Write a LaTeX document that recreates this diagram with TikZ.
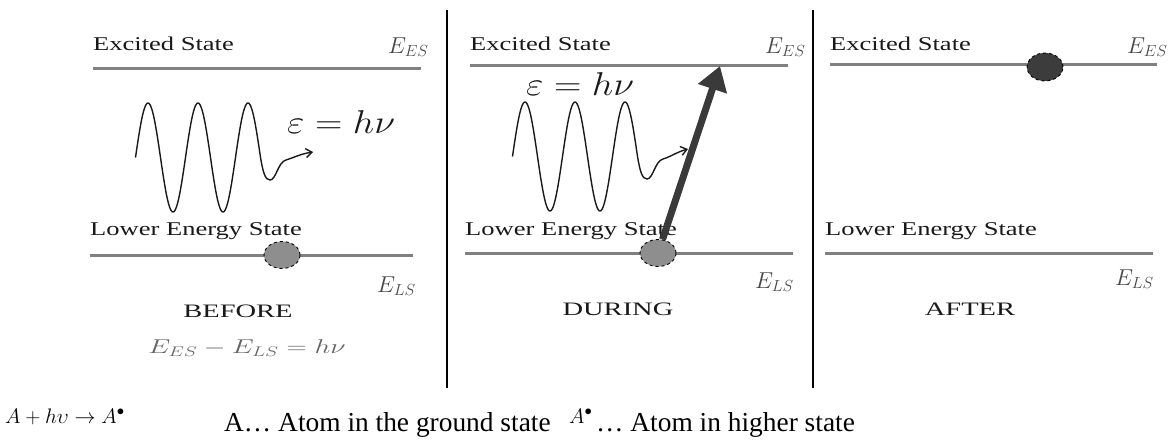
\documentclass[tikz,border=0pt]{standalone}
\usepackage{fix-cm}
\usepackage{fontspec}
\setmainfont{Liberation Serif}
\usetikzlibrary{arrows.meta,shapes.geometric}
\definecolor{levelgray}{RGB}{128,128,128}
\definecolor{txtdark}{RGB}{25,25,25}
\definecolor{elabgray}{RGB}{70,70,70}
\definecolor{eqgray}{RGB}{100,100,100}
\definecolor{atomlight}{RGB}{142,142,142}
\definecolor{atomdark}{RGB}{60,60,60}
\definecolor{arrowdark}{RGB}{58,58,58}
\newcommand\hstretch[2][1.36]{\scalebox{#1}[1]{#2}}
\begin{document}
\begin{tikzpicture}[x=1pt,y=-1pt,
  level/.style={draw=levelgray,line width=3pt},
  divider/.style={draw=black,line width=2pt},
  lbl/.style={inner sep=0pt,anchor=base west,text=txtdark,font=\fontsize{19.5}{22}\selectfont},
  elbl/.style={inner sep=0pt,anchor=base west,text=elabgray,font=\fontsize{23}{26}\selectfont},
  phase/.style={inner sep=0pt,anchor=base,text=txtdark,font=\fontsize{19}{21}\selectfont},
  photon/.style={inner sep=0pt,anchor=base west,text=txtdark,font=\fontsize{33}{36}\selectfont},
  wave/.style={draw=txtdark,line width=1.4pt},
  tail/.style={-{Straight Barb[length=6pt,width=9pt]}},
  atom/.style={ellipse,minimum width=36pt,minimum height=27pt,inner sep=0pt,draw=black,dashed,line width=0.9pt},
  bigarrow/.style={draw=arrowdark,line width=7pt,-{Triangle[length=24pt,width=29pt]}},
  bottomtxt/.style={inner sep=0pt,anchor=base west,text=black,font=\fontsize{27.4}{31}\selectfont},
  bottommath/.style={inner sep=0pt,anchor=base west,text=black,font=\fontsize{21}{24}\selectfont}
]
\useasboundingbox (0,0) rectangle (1172,440);

% dividers
\coordinate (d1t) at (447,10); \coordinate (d1b) at (447,388);
\coordinate (d2t) at (813,10); \coordinate (d2b) at (813,388);
\draw[divider] (d1t) -- (d1b);
\draw[divider] (d2t) -- (d2b);

% ---------- Panel 1: BEFORE ----------
\coordinate (ex1L) at (93,68); \coordinate (ex1R) at (421,68);
\draw[level] (ex1L) -- (ex1R);
\node[lbl] (exlbl1) at (93,50) {\hstretch{Excited State}};
\node[elbl] (ees1) at (388,53) {$E_{ES}$};
\coordinate (lo1L) at (90,255); \coordinate (lo1R) at (413,255);
\draw[level] (lo1L) -- (lo1R);
\node[lbl] (lolbl1) at (90,235) {\hstretch{Lower Energy State}};
\node[atom,fill=atomlight] (atom1) at (282,255) {};
\node[elbl] (els1) at (377,292) {$E_{LS}$};
\node[phase] (before) at (238,317) {\hstretch[1.5]{BEFORE}};
\node[inner sep=0pt,anchor=base,text=eqgray,font=\fontsize{20}{24}\selectfont] (eqn) at (247,353) {\hstretch[1.4]{$E_{ES}-E_{LS}=h\nu$}};
\node[photon] (eps1) at (287,133) {\hstretch[1.15]{$\varepsilon=h\nu$}};
\coordinate (tail1) at (313,152);
\draw[wave,tail] plot[domain=0:2.5,samples=151,smooth] ({135.5+50*\x},{157.5-54.5*sin(360*\x)})
  .. controls (263,172) and (265,180) .. (270,180)
  .. controls (276,180) and (278,162) .. (286,160)
  .. controls (293,158) and (300,154) .. (tail1);

% ---------- Panel 2: DURING ----------
\coordinate (ex2L) at (470,65); \coordinate (ex2R) at (788,65);
\draw[level] (ex2L) -- (ex2R);
\node[lbl] (exlbl2) at (470,50) {\hstretch{Excited State}};
\node[elbl] (ees2) at (765,53) {$E_{ES}$};
\coordinate (lo2L) at (465,253); \coordinate (lo2R) at (793,253);
\draw[level] (lo2L) -- (lo2R);
\node[lbl] (lolbl2) at (465,235) {\hstretch{Lower Energy State}};
\node[elbl] (els2) at (755,288) {$E_{LS}$};
\node[phase] (during) at (618,315) {\hstretch[1.5]{DURING}};
\node[photon] (eps2) at (526,95) {\hstretch[1.15]{$\varepsilon=h\nu$}};
\begin{scope}[shift={(377,-1)}]
\coordinate (tail2) at (311,150);
\draw[wave,tail] plot[domain=0:2.5,samples=151,smooth] ({135.5+50*\x},{157.5-54.5*sin(360*\x)})
  .. controls (263,172) and (265,180) .. (270,180)
  .. controls (276,180) and (278,162) .. (286,160)
  .. controls (293,158) and (300,153) .. (tail2);
\end{scope}
\node[atom,fill=atomlight] (atom2) at (658,253) {};
\coordinate (tip2) at (720,66);
\draw[bigarrow] (atom2) -- (tip2);

% ---------- Panel 3: AFTER ----------
\coordinate (ex3L) at (830,64); \coordinate (ex3R) at (1157,64);
\draw[level] (ex3L) -- (ex3R);
\node[lbl] (exlbl3) at (830,50) {\hstretch{Excited State}};
\node[elbl] (ees3) at (1127,53) {$E_{ES}$};
\node[atom,fill=atomdark,minimum height=28pt] (atom3) at (1045,67) {};
\coordinate (lo3L) at (825,253); \coordinate (lo3R) at (1153,253);
\draw[level] (lo3L) -- (lo3R);
\node[lbl] (lolbl3) at (825,235) {\hstretch{Lower Energy State}};
\node[elbl] (els3) at (1115,285) {$E_{LS}$};
\node[phase] (after) at (970,315) {\hstretch[1.5]{AFTER}};

% ---------- Bottom line ----------
\node[bottommath] (reaction) at (5,423) {$A+h\upsilon\to A^{\bullet}$};
\node[bottomtxt] (ground) at (224,431) {A… Atom in the ground state};
\node[bottommath] (astar) at (569,423) {$A^{\bullet}$};
\node[bottomtxt] (higher) at (596,431) {… Atom in higher state};
\end{tikzpicture}
\end{document}
